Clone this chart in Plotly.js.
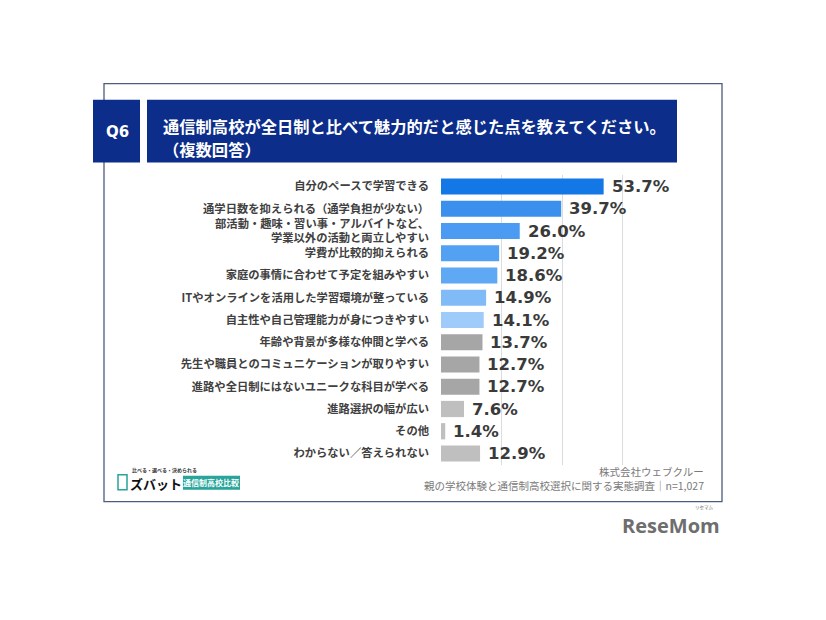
<!DOCTYPE html>
<html>
<head>
<meta charset="utf-8">
<script src="https://cdn.plot.ly/plotly-3.0.1.min.js"></script>
<style>
  html, body { margin: 0; padding: 0; background: #fff; }
  #chart { width: 826px; height: 620px; }
</style>
</head>
<body>
<div id="chart"></div>
<script>
// data (percent, multiple answers)
const categories = [
  '自分のペースで学習できる',
  '通学日数を抑えられる（通学負担が少ない）',
  '部活動・趣味・習い事・アルバイトなど、<br>学業以外の活動と両立しやすい',
  '学費が比較的抑えられる',
  '家庭の事情に合わせて予定を組みやすい',
  'ITやオンラインを活用した学習環境が整っている',
  '自主性や自己管理能力が身につきやすい',
  '年齢や背景が多様な仲間と学べる',
  '先生や職員とのコミュニケーションが取りやすい',
  '進路や全日制にはないユニークな科目が学べる',
  '進路選択の幅が広い',
  'その他',
  'わからない／答えられない'
];
const values = [53.7, 39.7, 26.0, 19.2, 18.6, 14.9, 14.1, 13.7, 12.7, 12.7, 7.6, 1.4, 12.9];
const barColors = [
  '#1477e6', '#3b90ee', '#4a9bf1', '#53a1f2', '#5ea8f4', '#80bbf7', '#9ecbf9',
  '#a6a6a6', '#a6a6a6', '#a6a6a6', '#bfbfbf', '#bfbfbf', '#bfbfbf'
];

const titleText = '通信制高校が全日制と比べて魅力的だと感じた点を教えてください。';
const subTitle = '（複数回答）';
const sourceLines = ['株式会社ウェブクルー', '親の学校体験と通信制高校選択に関する実態調査｜n=1,027'];

// page geometry in pixels
const W = 826, H = 620;
const ml = 441, mr = 173, mt = 174.5, mb = 154.8;
const pw = W - ml - mr, ph = H - mt - mb;
const px = v => (v - ml) / pw;        // pixel x -> paper
const py = v => 1 - (v - mt) / ph;    // pixel y -> paper

const jp = '"Noto Sans CJK JP", "Noto Sans", sans-serif';
const navy = '#0c2d8a';

const trace = {
  type: 'bar',
  orientation: 'h',
  x: values,
  y: categories,
  width: 0.73,
  marker: { color: barColors, line: { width: 0 } },
  hoverinfo: 'skip'
};

// value labels next to each bar
const valueNotes = values.map((v, i) => ({
  x: v, y: categories[i], xref: 'x', yref: 'y',
  text: v.toFixed(1) + '%',
  showarrow: false, xanchor: 'left', yanchor: 'middle', xshift: 6, yshift: 0,
  font: { family: '"DejaVu Sans", Verdana, sans-serif', size: 16.5, weight: 'bold', color: '#3a3a3a' }
}));

const notes = valueNotes.concat([
  { x: px(117), y: py(131), xref: 'paper', yref: 'paper', text: 'Q6', showarrow: false,
    xanchor: 'center', yanchor: 'middle',
    font: { family: '"DejaVu Sans", sans-serif', size: 15, weight: 'bold', color: '#ffffff' } },
  { x: px(161), y: py(125), xref: 'paper', yref: 'paper', text: titleText, showarrow: false,
    xanchor: 'left', yanchor: 'middle',
    font: { family: jp, size: 16.3, weight: 'bold', color: '#ffffff' } },
  { x: px(161), y: py(148), xref: 'paper', yref: 'paper', text: subTitle, showarrow: false,
    xanchor: 'left', yanchor: 'middle',
    font: { family: jp, size: 16.3, weight: 'bold', color: '#ffffff' } },
  { x: px(706), y: py(472), xref: 'paper', yref: 'paper', text: sourceLines[0], showarrow: false,
    xanchor: 'right', yanchor: 'middle',
    font: { family: jp, size: 10.5, color: '#7a7a7a' } },
  { x: px(706), y: py(486), xref: 'paper', yref: 'paper', text: sourceLines[1], showarrow: false,
    xanchor: 'right', yanchor: 'middle',
    font: { family: jp, size: 10.5, color: '#7a7a7a' } },
  // ズバット logo
  { x: px(130), y: py(470), xref: 'paper', yref: 'paper', text: '比べる・選べる・決められる', showarrow: false,
    xanchor: 'left', yanchor: 'middle',
    font: { family: jp, size: 5, weight: 'bold', color: '#333333' } },
  { x: px(128), y: py(484), xref: 'paper', yref: 'paper', text: 'ズバット', showarrow: false,
    xanchor: 'left', yanchor: 'middle',
    font: { family: jp, size: 13, weight: 'bold', color: '#111111' } },
  { x: px(211), y: py(483), xref: 'paper', yref: 'paper', text: '通信制高校比較', showarrow: false,
    xanchor: 'center', yanchor: 'middle',
    font: { family: jp, size: 8, weight: 'bold', color: '#ffffff' } },
  // ReseMom logo
  { x: px(671), y: py(526), xref: 'paper', yref: 'paper', text: 'ReseMom', showarrow: false,
    xanchor: 'center', yanchor: 'middle',
    font: { family: '"Open Sans", "DejaVu Sans", sans-serif', size: 20, weight: 'bold', color: '#6e6e6e' } },
  { x: px(704), y: py(508), xref: 'paper', yref: 'paper', text: 'リセマム', showarrow: false,
    xanchor: 'center', yanchor: 'middle',
    font: { family: jp, size: 4.5, color: '#6e6e6e' } }
]);

const shapes = [
  // outer frame
  { type: 'rect', xref: 'paper', yref: 'paper', x0: px(104), x1: px(722), y0: py(83), y1: py(502),
    line: { color: '#4d5b7c', width: 1.3 }, fillcolor: 'rgba(0,0,0,0)', layer: 'below' },
  // Q6 box
  { type: 'rect', xref: 'paper', yref: 'paper', x0: px(93), x1: px(140), y0: py(99), y1: py(162),
    line: { width: 0 }, fillcolor: navy, layer: 'above' },
  // title box
  { type: 'rect', xref: 'paper', yref: 'paper', x0: px(147), x1: px(677), y0: py(99), y1: py(162),
    line: { width: 0 }, fillcolor: navy, layer: 'above' },
  // logo icon and green badge
  { type: 'rect', xref: 'paper', yref: 'paper', x0: px(118), x1: px(127), y0: py(475), y1: py(490),
    line: { color: '#2aa39a', width: 1.5 }, fillcolor: 'rgba(0,0,0,0)', layer: 'above' },
  { type: 'rect', xref: 'paper', yref: 'paper', x0: px(183), x1: px(240), y0: py(476), y1: py(490),
    line: { width: 0 }, fillcolor: '#27a59a', layer: 'above' }
];

const layout = {
  width: W, height: H,
  margin: { l: ml, r: mr, t: mt, b: mb, pad: 0 },
  paper_bgcolor: '#ffffff',
  plot_bgcolor: '#ffffff',
  showlegend: false,
  xaxis: {
    range: [0, 70], dtick: 20, tick0: 0,
    showgrid: true, gridcolor: '#dcdcdc', gridwidth: 1,
    zeroline: false, showticklabels: false, showline: false, fixedrange: true
  },
  yaxis: {
    type: 'category', autorange: 'reversed',
    showgrid: false, zeroline: false, showline: false, ticks: '',
    ticklabelstandoff: 11,
    tickfont: { family: jp, size: 11.3, weight: 'bold', color: '#404040' },
    automargin: false, fixedrange: true
  },
  shapes: shapes,
  annotations: notes
};

Plotly.newPlot('chart', [trace], layout, { displayModeBar: false, staticPlot: true });
</script>
</body>
</html>
